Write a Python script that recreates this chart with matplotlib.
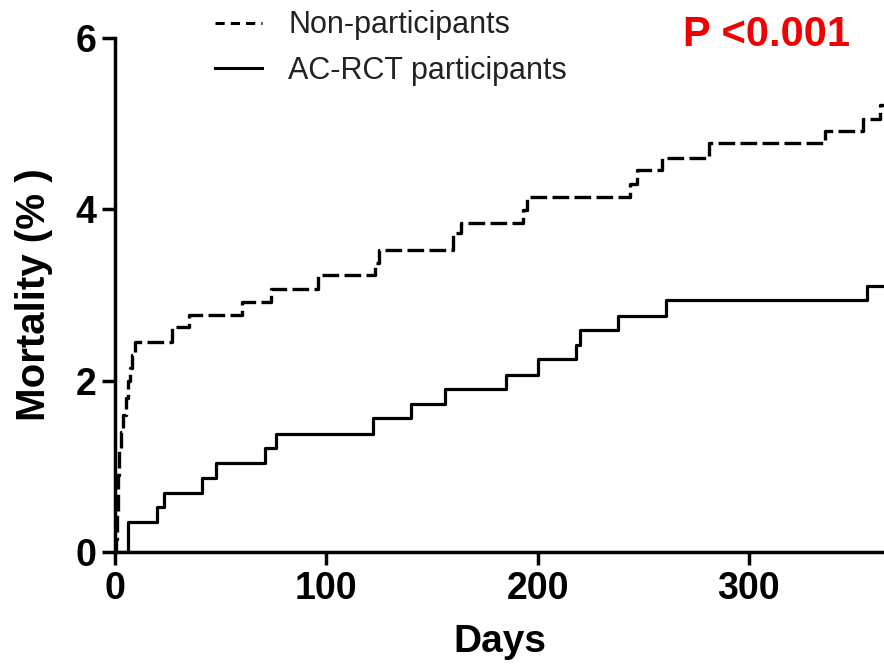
import matplotlib
matplotlib.use("Agg")
import matplotlib.pyplot as plt
from matplotlib.lines import Line2D

# Kaplan-Meier style cumulative mortality (%)
non_days = [0, 0.5, 1, 1.5, 2, 3, 4, 5, 6, 7, 8, 9.5, 27, 35, 60, 74, 96,
            123, 125, 160, 164, 193, 195, 244, 247, 259, 281, 336, 354, 362, 365]
non_vals = [0, 0.15, 0.45, 0.9, 1.2, 1.4, 1.6, 1.8, 2.0, 2.15, 2.3, 2.45, 2.63,
            2.77, 2.92, 3.07, 3.23, 3.37, 3.52, 3.72, 3.84, 3.99, 4.14, 4.30,
            4.46, 4.60, 4.77, 4.91, 5.06, 5.22, 5.22]

rct_days = [0, 6, 20, 23, 41, 48, 71, 76, 122, 140, 156, 185, 200, 218, 220,
            238, 261, 356, 365]
rct_vals = [0, 0.35, 0.52, 0.69, 0.86, 1.04, 1.21, 1.38, 1.56, 1.73, 1.90,
            2.07, 2.25, 2.42, 2.59, 2.76, 2.94, 3.11, 3.11]

xticks = [0, 100, 200, 300]
yticks = [0, 2, 4, 6]
labels = ["Non-participants", "AC-RCT participants"]

plt.rcParams['font.family'] = ['Liberation Sans', 'DejaVu Sans']

fig = plt.figure(figsize=(8.84, 6.67), dpi=100)
ax = fig.add_axes([115/884, 115/667, 769/884, 514/667])

ax.step(non_days, non_vals, where='post', color='black', lw=2.4,
        dashes=(5, 1.6), solid_capstyle='butt')
ax.step(rct_days, rct_vals, where='post', color='black', lw=2.3)

ax.set_xlim(0, 364)
ax.set_ylim(0, 6)
ax.set_xticks(xticks)
ax.set_yticks(yticks)

for s in ['top', 'right']:
    ax.spines[s].set_visible(False)
for s in ['left', 'bottom']:
    ax.spines[s].set_linewidth(2.5)

ax.tick_params(direction='out', length=9.5, width=2.5, pad=4)
for lab in ax.get_xticklabels() + ax.get_yticklabels():
    lab.set_fontsize(27)
    lab.set_fontweight('bold')

ax.set_xlabel("Days", fontsize=28, fontweight='bold')
ax.set_ylabel("Mortality (% )", fontsize=29, fontweight='bold')
ax.xaxis.set_label_coords(0.5, -0.14)
ax.yaxis.set_label_coords(-0.081, 0.5)

handles = [Line2D([], [], color='black', lw=2.2, dashes=(3, 2)),
           Line2D([], [], color='black', lw=2.2)]
fig.legend(handles, labels, loc='center left', bbox_to_anchor=(215/884, 1 - 48/667),
           frameon=False, fontsize=22, handlelength=1.55, handletextpad=0.85,
           labelspacing=0.5, borderpad=0, borderaxespad=0, labelcolor='#222222')

fig.text(683/884, 1 - 35/667, "P <0.001", color='#f00000', fontsize=30,
         fontweight='bold', ha='left', va='center')

fig.savefig("out.png", dpi=100)
